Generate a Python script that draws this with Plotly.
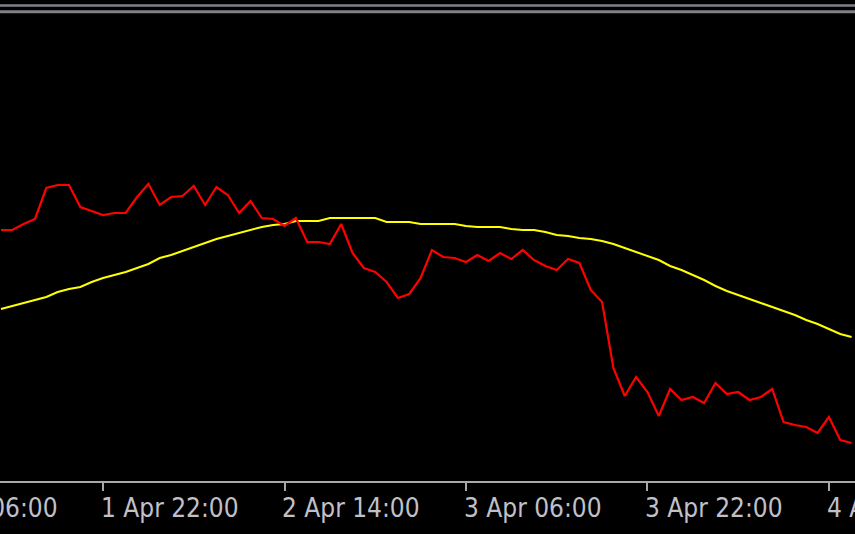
import pandas as pd
import plotly.graph_objects as go

# hourly closes (red) and moving average (yellow)
start_time = "2024-04-01 13:00"
close_prices = [
    1.0270, 1.0270, 1.0276, 1.0281, 1.0312, 1.0315, 1.0315, 1.0293, 1.0289, 1.0285,
    1.0287, 1.0287, 1.0303, 1.0316, 1.0295, 1.0303, 1.0304, 1.0314, 1.0295, 1.0313,
    1.0305, 1.0287, 1.0299, 1.0282, 1.0281, 1.0274, 1.0282, 1.0258, 1.0258, 1.0256,
    1.0276, 1.0247, 1.0232, 1.0228, 1.0218, 1.0202, 1.0206, 1.0222, 1.0250, 1.0243,
    1.0242, 1.0238, 1.0245, 1.0239, 1.0247, 1.0241, 1.0250, 1.0240, 1.0234, 1.0230,
    1.0241, 1.0237, 1.0210, 1.0198, 1.0132, 1.0104, 1.0123, 1.0108, 1.0084, 1.0111,
    1.0100, 1.0103, 1.0097, 1.0117, 1.0106, 1.0108, 1.0100, 1.0103, 1.0111, 1.0078,
    1.0075, 1.0073, 1.0067, 1.0083, 1.0060, 1.0057,
]
ma_values = [
    1.0191, 1.0194, 1.0197, 1.0200, 1.0203, 1.0208, 1.0211, 1.0213, 1.0218, 1.0222,
    1.0225, 1.0228, 1.0232, 1.0236, 1.0242, 1.0245, 1.0249, 1.0253, 1.0257, 1.0261,
    1.0264, 1.0267, 1.0270, 1.0273, 1.0275, 1.0276, 1.0279, 1.0279, 1.0279, 1.0282,
    1.0282, 1.0282, 1.0282, 1.0282, 1.0278, 1.0278, 1.0278, 1.0276, 1.0276, 1.0276,
    1.0276, 1.0274, 1.0273, 1.0273, 1.0273, 1.0271, 1.0270, 1.0270, 1.0268, 1.0265,
    1.0264, 1.0262, 1.0261, 1.0259, 1.0256, 1.0252, 1.0248, 1.0244, 1.0240, 1.0234,
    1.0230, 1.0225, 1.0220, 1.0214, 1.0209, 1.0205, 1.0201, 1.0197, 1.0193, 1.0189,
    1.0185, 1.0180, 1.0176, 1.0171, 1.0166, 1.0163,
]
tick_times = ["2024-04-01 06:00", "2024-04-01 22:00", "2024-04-02 14:00",
              "2024-04-03 06:00", "2024-04-03 22:00", "2024-04-04 14:00"]
tick_labels = ["1 Apr 06:00", "1 Apr 22:00", "2 Apr 14:00",
               "3 Apr 06:00", "3 Apr 22:00", "4 Apr 14:00"]
x_range = ["2024-04-01 12:55", "2024-04-04 16:18"]
y_range = [1.0019, 1.0486]

times = pd.date_range(start_time, periods=len(close_prices), freq="h")

fig = go.Figure()
fig.add_trace(go.Scatter(x=times, y=ma_values, mode="lines",
                         line=dict(color="#ffff00", width=2), hoverinfo="skip"))
fig.add_trace(go.Scatter(x=times, y=close_prices, mode="lines",
                         line=dict(color="#ff0000", width=2.2), hoverinfo="skip"))

# tick labels, left-aligned at each tick as in the terminal chart
r0, r1 = pd.Timestamp(x_range[0]), pd.Timestamp(x_range[1])
annotations = []
for t, lab in zip(tick_times, tick_labels):
    frac = (pd.Timestamp(t) - r0) / (r1 - r0)
    annotations.append(dict(
        x=frac, xref="paper", y=0, yref="paper", text=lab, showarrow=False,
        xanchor="left", yanchor="middle", xshift=-4, yshift=-27,
        font=dict(family="DejaVu Sans Condensed, Liberation Sans Narrow, DejaVu Sans",
                  size=26, color="#c0c0c8"),
    ))

shapes = [
    dict(type="line", xref="paper", x0=0, x1=1, yref="paper", ysizemode="pixel",
         yanchor=1, y0=8.5, y1=8.5, line=dict(color="#808088", width=2.5)),
    dict(type="line", xref="paper", x0=0, x1=1, yref="paper", ysizemode="pixel",
         yanchor=1, y0=2.2, y1=2.2, line=dict(color="#808088", width=3)),
]

fig.update_layout(
    width=855, height=534,
    margin=dict(l=0, r=0, t=14, b=53),
    paper_bgcolor="#000000", plot_bgcolor="#000000",
    showlegend=False,
    annotations=annotations,
    shapes=shapes,
    xaxis=dict(type="date", range=x_range, tickvals=tick_times, ticktext=tick_labels,
               showticklabels=False, ticks="outside", ticklen=8, tickwidth=2,
               tickcolor="#a8a8a8", showline=True, linecolor="#a8a8a8", linewidth=2,
               showgrid=False, zeroline=False, fixedrange=True),
    yaxis=dict(range=y_range, visible=False, showgrid=False, zeroline=False,
               fixedrange=True),
)

fig.write_html("out.html", config={"displayModeBar": False},
               post_script="document.body.style.margin='0px';"
                           "document.body.style.background='#000000';")
